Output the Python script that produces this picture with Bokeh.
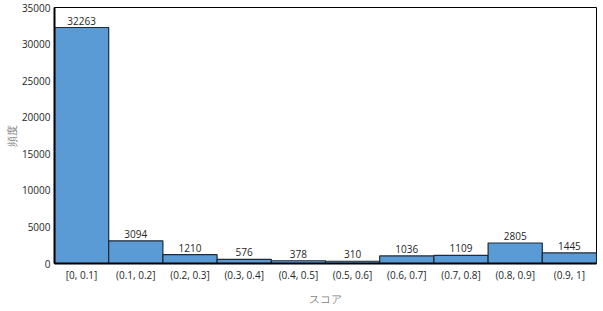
from bokeh.plotting import figure
from bokeh.models import ColumnDataSource, Range1d, FixedTicker, LabelSet
from bokeh.core.properties import value
from bokeh.embed import file_html
from bokeh.resources import INLINE

categories = ["[0, 0.1]", "(0.1, 0.2]", "(0.2, 0.3]", "(0.3, 0.4]", "(0.4, 0.5]",
              "(0.5, 0.6]", "(0.6, 0.7]", "(0.7, 0.8]", "(0.8, 0.9]", "(0.9, 1]"]
counts = [32263, 3094, 1210, 576, 378, 310, 1036, 1109, 2805, 1445]
y_ticks = [0, 5000, 10000, 15000, 20000, 25000, 30000, 35000]

xs = [i + 0.5 for i in range(len(categories))]
src = ColumnDataSource(dict(x=xs, top=counts, label=[str(c) for c in counts]))

FONT = "Open Sans"
p = figure(width=603, height=311, output_backend="svg", toolbar_location=None,
           x_range=Range1d(0, len(categories)), y_range=Range1d(0, 35000),
           min_border_left=54, min_border_right=7, min_border_top=7, min_border_bottom=48)

p.vbar(x="x", top="top", width=1.0, source=src, fill_color="#5b9bd5",
       line_color="#1f2a36", line_width=1.2)

labels = LabelSet(x="x", y="top", text="label", source=src, text_align="center",
                  text_baseline="bottom", y_offset=3, text_font_size="7.5pt",
                  text_color="#262626", text_font=value(FONT))
p.add_layout(labels)

p.xgrid.visible = False
p.ygrid.visible = False
p.outline_line_color = "#000000"
p.outline_line_width = 1

p.xaxis.ticker = FixedTicker(ticks=xs)
p.xaxis.major_label_overrides = {x: c for x, c in zip(xs, categories)}
p.yaxis.ticker = FixedTicker(ticks=y_ticks)

for ax in (p.xaxis[0], p.yaxis[0]):
    ax.axis_line_color = "#000000"
    ax.axis_line_width = 2
    ax.major_tick_line_color = None
    ax.minor_tick_line_color = None
    ax.major_tick_out = 0
    ax.major_tick_in = 0
    ax.minor_tick_out = 0
    ax.minor_tick_in = 0
    ax.major_label_text_font = FONT
    ax.major_label_text_font_size = "7.5pt"
    ax.major_label_text_color = "#262626"
    ax.axis_label_text_font = FONT
    ax.axis_label_text_font_size = "8pt"
    ax.axis_label_text_font_style = "normal"
    ax.axis_label_text_color = "#7f7f7f"

p.xaxis.axis_label = "スコア"
p.yaxis.axis_label = "頻度"
p.xaxis.major_label_standoff = 4
p.xaxis.axis_label_standoff = 7
p.yaxis.major_label_standoff = 4
p.yaxis.axis_label_standoff = 0

open("out.html", "w").write(file_html(p, INLINE))
